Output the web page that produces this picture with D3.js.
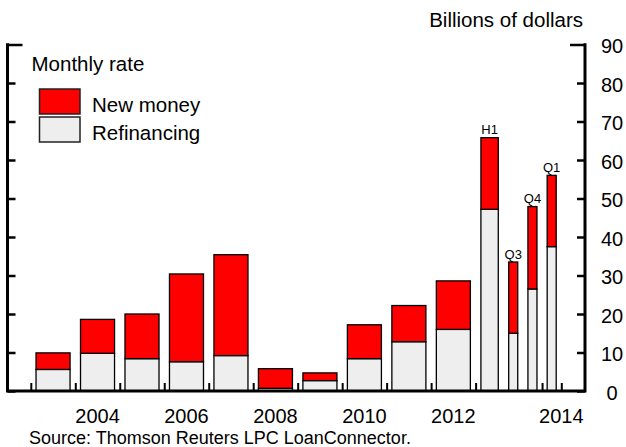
<!DOCTYPE html>
<html><head><meta charset="utf-8">
<script src="https://cdn.jsdelivr.net/npm/d3@7"></script>
<style>
body{margin:0;background:#fff}
svg{display:block}
text{font-family:Arial,"Liberation Sans",Helvetica,sans-serif;fill:#000}
</style>
</head><body>
<svg id="c" width="626" height="447"></svg>
<script>
// ---- data ----
const periods = ["2003","2004","2005","2006","2007","2008","2009","2010","2011","2012","H1 2013","Q3 2013","Q4 2013","Q1 2014"];
const periodStart = [2003,2004,2005,2006,2007,2008,2009,2010,2011,2012,2013,2013.5,2013.75,2014];
const periodEnd   = [2004,2005,2006,2007,2008,2009,2010,2011,2012,2013,2013.5,2013.75,2014,2014.25];
const refinancing = [5.6,9.8,8.4,7.6,9.2,0.7,2.7,8.4,12.8,16.0,47.2,15.0,26.5,37.5];
const newMoney    = [4.3,8.8,11.6,22.8,26.2,5.1,2.0,8.8,9.4,12.6,18.6,18.5,21.4,18.5];
const barLabels   = ["","","","","","","","","","","H1","Q3","Q4","Q1"];
const yTicks = [0,10,20,30,40,50,60,70,80,90];
const xTickValues = [2003,2004,2005,2006,2007,2008,2009,2010,2011,2012,2013,2014,2014.25];
const xLabels = ["2004","2006","2008","2010","2012","2014"];
const xLabelAt = [2004.5,2006.5,2008.5,2010.5,2012.5,2014.25];
const seriesNames = ["Refinancing","New money"];
const colors = {"Refinancing":"#eeeeee","New money":"#ff0000"};

// ---- layout ----
const svg = d3.select("#c");
const xLeft = 7.5, xRight = 585, yBase = 391;
const x = d3.scaleLinear().domain([2003,2013,2013.5,2014.25]).range([30.8,475.6,503.6,561.3]);
const y = d3.scaleLinear().domain([0,90]).range([yBase,44.5]);

const table = periods.map((p,i)=>({period:p,start:periodStart[i],end:periodEnd[i],
  "Refinancing":refinancing[i],"New money":newMoney[i],label:barLabels[i]}));
const stack = d3.stack().keys(seriesNames)(table);

function frac(span){ return span>=1?0.765:(span>=0.5?0.62:0.47); }
function bx(d){ const s=x(d.start), e=x(d.end), w=(e-s)*frac(d.end-d.start); return (s+e)/2 - w/2; }
function bw(d){ const s=x(d.start), e=x(d.end); return (e-s)*frac(d.end-d.start); }

svg.append("g").selectAll("g").data(stack).join("g")
  .attr("fill",s=>colors[s.key])
  .selectAll("rect").data(s=>s).join("rect")
  .attr("x",d=>bx(d.data)).attr("width",d=>bw(d.data))
  .attr("y",d=>y(d[1])).attr("height",d=>y(d[0])-y(d[1]))
  .attr("stroke","#000").attr("stroke-width",1.3);

// bar annotations
svg.append("g").selectAll("text").data(table.filter(d=>d.label)).join("text")
  .attr("x",d=>x((d.start+d.end)/2)).attr("y",d=>y(d["Refinancing"]+d["New money"])-3.5)
  .attr("text-anchor","middle").style("font-size","13px").text(d=>d.label);

// left axis (ticks pointing inward)
const gl = svg.append("g").attr("transform",`translate(${xLeft},0)`)
  .call(d3.axisRight(y).tickValues(yTicks).tickSize(8).tickFormat(""));
gl.select(".domain").remove();
gl.selectAll(".tick line").attr("stroke","#000").attr("stroke-width",2.5)
  .filter(d=>d===90).attr("x2",15);

// right axis ticks
const gr = svg.append("g").attr("transform",`translate(${xRight},0)`)
  .call(d3.axisLeft(y).tickValues(yTicks).tickSize(8).tickFormat(""));
gr.select(".domain").remove();
gr.selectAll(".tick line").attr("stroke","#000").attr("stroke-width",2.5)
  .filter(d=>d===90).attr("x2",-15);

// right labels
const grl = svg.append("g").attr("transform",`translate(${xRight},0)`)
  .call(d3.axisRight(y).tickValues(yTicks).tickSize(0).tickPadding(27));
grl.select(".domain").remove();
grl.selectAll(".tick text").attr("text-anchor","middle").attr("dy","0.42em")
  .style("font-size","20px").style("font-family","Arial,'Liberation Sans',sans-serif").attr("fill","#000");

// bottom ticks (pointing up)
const gb = svg.append("g").attr("transform",`translate(0,${yBase})`)
  .call(d3.axisTop(x).tickValues(xTickValues).tickSize(8).tickFormat(""));
gb.select(".domain").remove();
gb.selectAll(".tick line").attr("stroke","#000").attr("stroke-width",2);

// frame lines
svg.append("path").attr("d",`M${xLeft},${y(90)-1.25}V${yBase}H${xRight}V${y(90)-1.25}`)
  .attr("fill","none").attr("stroke","#000").attr("stroke-width",3);

// x labels
svg.append("g").selectAll("text").data(xLabels).join("text")
  .attr("x",(d,i)=>x(xLabelAt[i])).attr("y",423).attr("text-anchor","middle")
  .style("font-size","20px").text(d=>d);

// titles
svg.append("text").attr("x",583).attr("y",27).attr("text-anchor","end")
  .style("font-size","20.5px").text("Billions of dollars");
svg.append("text").attr("x",31.5).attr("y",71).style("font-size","20.5px").text("Monthly rate");
svg.append("text").attr("x",29).attr("y",444).style("font-size","18px").text("Source: Thomson Reuters LPC LoanConnector.");

// legend
const legend = [{name:"New money",y:89},{name:"Refinancing",y:117}];
const lg = svg.append("g");
lg.selectAll("rect").data(legend).join("rect")
  .attr("x",39.5).attr("y",d=>d.y).attr("width",40.5).attr("height",25)
  .attr("fill",d=>colors[d.name]).attr("stroke","#222").attr("stroke-width",1.5);
lg.selectAll("text").data(legend).join("text")
  .attr("x",92).attr("y",d=>d.y+22.5).style("font-size","20.5px").text(d=>d.name);
</script>
</body></html>
